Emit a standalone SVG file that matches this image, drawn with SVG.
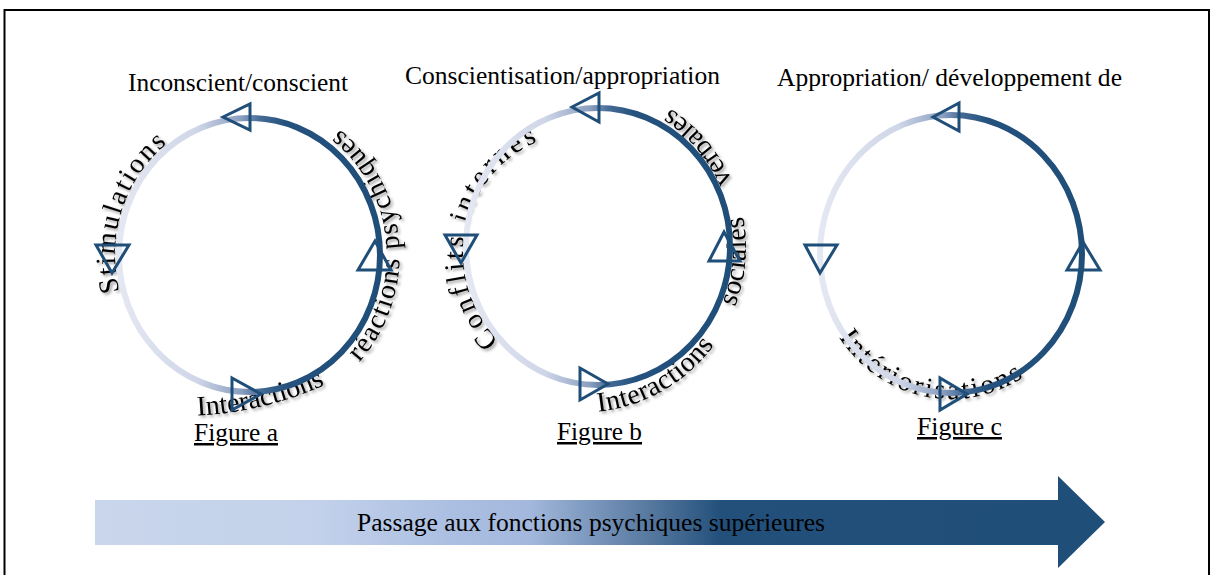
<svg xmlns="http://www.w3.org/2000/svg" width="1213" height="575" viewBox="0 0 1213 575" font-family="Liberation Serif, Tinos, Times New Roman, serif">
<style>
  text{font-family:'Liberation Serif',Tinos,'Times New Roman',serif}
  .t{font-size:25px;fill:#000}
  .c{font-size:28px;fill:#000;filter:url(#sh)}
  .u{text-decoration:underline}
  .ring{fill:none;stroke-width:6}
  .ah{fill:none;stroke:#1f4e79;stroke-width:3;stroke-linejoin:miter}
</style>
<defs>
  <linearGradient id="rg" x1="0" y1="0" x2="1" y2="0">
    <stop offset="0" stop-color="#e4e8f2"/>
    <stop offset="0.3" stop-color="#cfd6e8"/>
    <stop offset="0.47" stop-color="#8a9ec0"/>
    <stop offset="0.54" stop-color="#456b95"/>
    <stop offset="0.64" stop-color="#24517d"/>
    <stop offset="1" stop-color="#1f4e79"/>
  </linearGradient>
  <linearGradient id="bg" gradientUnits="userSpaceOnUse" x1="95" y1="0" x2="1105" y2="0">
    <stop offset="0" stop-color="#c9d6ec"/>
    <stop offset="0.22" stop-color="#c3d1ea"/>
    <stop offset="0.36" stop-color="#aabee2"/>
    <stop offset="0.43" stop-color="#a3b8dc"/>
    <stop offset="0.55" stop-color="#56789f"/>
    <stop offset="0.62" stop-color="#22507b"/>
    <stop offset="1" stop-color="#1f4e79"/>
  </linearGradient>
  <filter id="sh" x="-20%" y="-20%" width="140%" height="140%">
    <feDropShadow dx="2" dy="2" stdDeviation="1.5" flood-color="#000" flood-opacity="0.4"/>
  </filter>
  <path id="pa1" d="M 119.6 291.5 A 134.5 141 0 0 1 182.3 132.9"/>
  <path id="pa2" d="M 359.2 362.1 A 150 157 0 0 0 319.9 116.4"/>
  <path id="pa3" d="M 197.2 415.6 A 353 353 0 0 0 356.5 368.7"/>
  <path id="pb1" d="M 499.2 340.7 A 122 122 0 0 1 574.4 132.5"/>
  <path id="pb2" d="M 598.2 411.6 A 165 165 0 0 0 663.5 104.6"/>
  <path id="pc1" d="M 838.8 337.2 A 137 145 0 0 0 1039.1 365.1"/>
</defs>

<rect id="frame" x="4.5" y="10" width="1204.5" height="580" fill="none" stroke="#000" stroke-width="2"/>

<g id="fig-a">
  <text class="t" x="128" y="91" textLength="220" lengthAdjust="spacingAndGlyphs">Inconscient/conscient</text>
  <text class="c" letter-spacing="2"><textPath href="#pa1">Stimulations</textPath></text>
  <text class="c" letter-spacing="1.5"><textPath href="#pa2">réactions psychiques</textPath></text>
  <text class="c"><textPath href="#pa3">Interactions</textPath></text>
  <ellipse class="ring" cx="249.5" cy="255" rx="130.5" ry="137" stroke="url(#rg)"/>
  <text class="t u" x="194" y="441" textLength="84" lengthAdjust="spacingAndGlyphs">Figure a</text>
</g>

<g id="fig-b">
  <text class="t" x="405" y="84" textLength="315" lengthAdjust="spacingAndGlyphs">Conscientisation/appropriation</text>
  <text class="c" letter-spacing="3.3"><textPath href="#pb1">Conflits internes</textPath></text>
  <text class="c" letter-spacing="0.5"><textPath href="#pb2">Interactions</textPath></text>
  <text class="c" letter-spacing="0.5"><textPath href="#pb2" startOffset="181">sociales</textPath></text>
  <text class="c" letter-spacing="0.5"><textPath href="#pb2" startOffset="310">verbales</textPath></text>
  <ellipse class="ring" cx="598" cy="246.5" rx="132" ry="138.5" stroke="url(#rg)"/>
  <text class="t u" x="557" y="440" textLength="85" lengthAdjust="spacingAndGlyphs">Figure b</text>
</g>

<g id="fig-c">
  <text class="t" x="777" y="86" textLength="345" lengthAdjust="spacingAndGlyphs">Appropriation/ développement de</text>
  <text class="c" letter-spacing="2.7"><textPath href="#pc1">Intériorisations</textPath></text>
  <ellipse class="ring" cx="951" cy="254" rx="131" ry="139" stroke="url(#rg)"/>
  <text class="t u" x="917" y="435" textLength="85" lengthAdjust="spacingAndGlyphs">Figure c</text>
</g>

<g id="connectors">
  <polygon class="ah" points="223,117 250,104 250,130"/>
  <polygon class="ah" points="96,245 129,245 112,273"/>
  <polygon class="ah" points="375,241 358,270 391,270"/>
  <polygon class="ah" points="232,378 232,410 261,394"/>

  <polygon class="ah" points="572,107 599,93 599,122"/>
  <polygon class="ah" points="445,235 477,235 461,263"/>
  <polygon class="ah" points="724,232 709,261 740,261"/>
  <polygon class="ah" points="580,368 580,400 608,384"/>

  <polygon class="ah" points="933,117 959,103 959,131"/>
  <polygon class="ah" points="805,245 837,245 820,273"/>
  <polygon class="ah" points="1083,242 1067,270 1100,270"/>
  <polygon class="ah" points="940,378 940,410 967,394"/>
</g>

<g id="progress-arrow">
  <polygon points="95,500 1058,500 1058,476 1105,522 1058,568 1058,545 95,545" fill="url(#bg)"/>
  <text class="t" x="357" y="531" textLength="468" lengthAdjust="spacingAndGlyphs">Passage aux fonctions psychiques supérieures</text>
</g>
</svg>
